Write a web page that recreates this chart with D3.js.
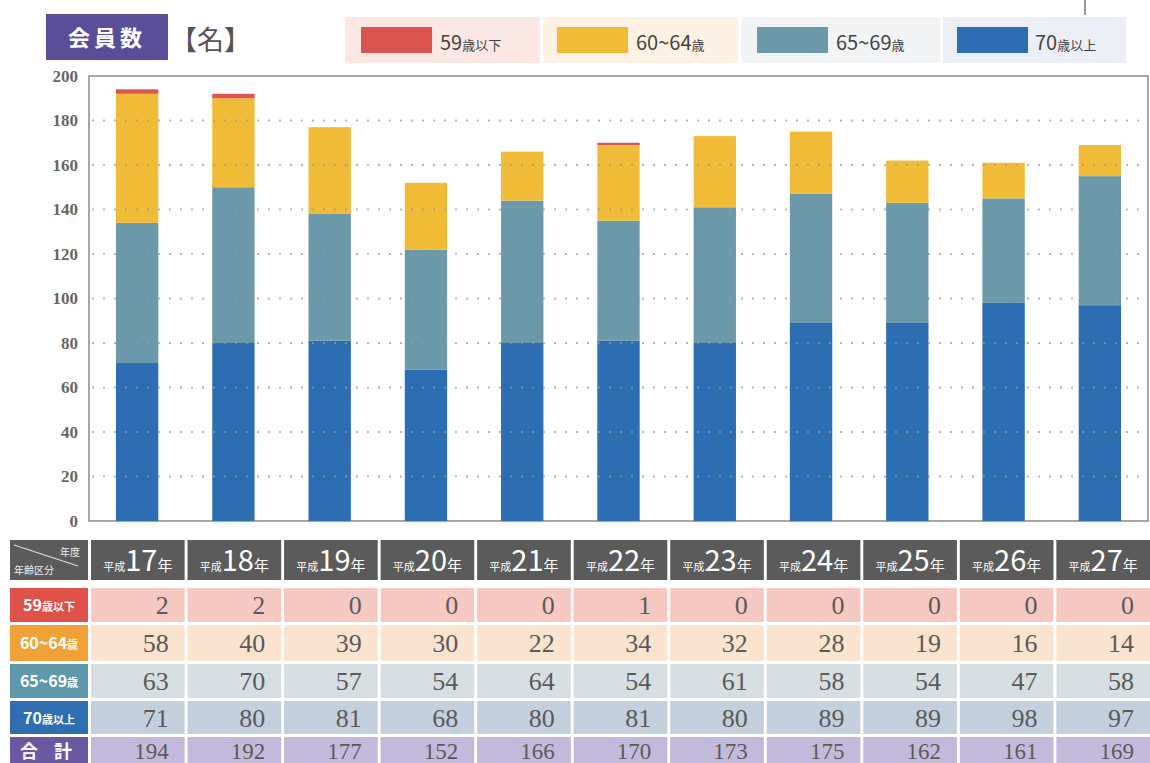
<!DOCTYPE html>
<html><head><meta charset="utf-8">
<script src="https://cdn.jsdelivr.net/npm/d3@7"></script>
<style>body{margin:0;background:#fff}svg{display:block}</style>
</head><body>
<svg id="c" width="1150" height="763"></svg>
<script>
const years = ["17","18","19","20","21","22","23","24","25","26","27"];
const under59 = [2,2,0,0,0,1,0,0,0,0,0];
const age6064 = [58,40,39,30,22,34,32,28,19,16,14];
const age6569 = [63,70,57,54,64,54,61,58,54,47,58];
const over70 = [71,80,81,68,80,81,80,89,89,98,97];
const seriesNames = ["59歳以下","60~64歳","65~69歳","70歳以上"];
const yTicks = [0,20,40,60,80,100,120,140,160,180,200];

const colors = {"70歳以上":"#2d6db2","65~69歳":"#6c99aa","60~64歳":"#f0bc38","59歳以下":"#dc5450"};
const svg = d3.select("#c");
const serif = "'Liberation Serif','DejaVu Serif',serif";
const sans = "'Noto Sans CJK JP','Noto Sans',sans-serif";

const rows = years.map((y,i)=>({year:y,"70歳以上":over70[i],"65~69歳":age6569[i],"60~64歳":age6064[i],"59歳以下":under59[i]}));
const stackKeys = ["70歳以上","65~69歳","60~64歳","59歳以下"];
const stacked = d3.stack().keys(stackKeys)(rows);

const L=89,R=1148,T=76,B=521;
const x = d3.scaleBand().domain(years).range([L,R]).paddingInner(0.56).paddingOuter(0.28);
const y = d3.scaleLinear().domain([0,200]).range([B,T]);

// title
svg.append("rect").attr("x",46).attr("y",14).attr("width",122).attr("height",46).attr("fill","#5a4e98");
svg.append("text").attr("x",107).attr("y",46).attr("text-anchor","middle").attr("fill","#fff")
  .attr("font-family",sans).attr("font-weight","bold").attr("font-size",22).attr("letter-spacing",4).text("会員数");
svg.append("text").attr("x",170).attr("y",50).attr("fill","#555").attr("font-family",sans)
  .attr("font-size",27).text("【名】");

// legend
const legendPos = [
  {bg:[345,540],sw:361,lab:440,bgc:"#fbe8e4"},
  {bg:[543,738],sw:557,lab:636,bgc:"#fdf1e3"},
  {bg:[741,940],sw:757,lab:836,bgc:"#f1f3f4"},
  {bg:[943,1126],sw:957,lab:1035,bgc:"#eceef5"}];
seriesNames.forEach((n,i)=>{
  const p=legendPos[i];
  svg.append("rect").attr("x",p.bg[0]).attr("y",17).attr("width",p.bg[1]-p.bg[0]).attr("height",46).attr("fill",p.bgc);
  svg.append("rect").attr("x",p.sw).attr("y",27).attr("width",71).attr("height",26).attr("fill",colors[n]);
  const t=svg.append("text").attr("x",p.lab).attr("y",50).attr("fill","#444").attr("font-family",sans).attr("font-size",20);
  const m=n.match(/^([\d~]+)(.*)$/);
  t.append("tspan").text(m[1]);
  t.append("tspan").attr("font-size",13).text(m[2]);
});
svg.append("line").attr("x1",1085).attr("x2",1085).attr("y1",0).attr("y2",15).attr("stroke","#777").attr("stroke-width",1.5);

// frame
svg.append("rect").attr("x",L).attr("y",T).attr("width",R-L).attr("height",B-T).attr("fill","#fff").attr("stroke","#8a8a8a").attr("stroke-width",1.5);

// bars
svg.append("g").selectAll("g").data(stacked).join("g").attr("fill",d=>colors[d.key])
  .selectAll("rect").data(d=>d).join("rect")
  .attr("x",d=>x(d.data.year)).attr("width",x.bandwidth())
  .attr("y",d=>y(d[1])).attr("height",d=>y(d[0])-y(d[1]));

// grid dotted on top
svg.append("g").selectAll("line").data(yTicks.filter(v=>v>0&&v<200)).join("line")
  .attr("x1",L+3).attr("x2",R).attr("y1",d=>y(d)).attr("y2",d=>y(d))
  .attr("stroke","#999").attr("stroke-opacity",0.7).attr("stroke-width",2).attr("stroke-dasharray","2,9");

// y axis
const yAxis = d3.axisLeft(y).tickValues(yTicks).tickSize(0).tickPadding(11);
const ga = svg.append("g").attr("transform",`translate(${L},0)`).call(yAxis);
ga.select(".domain").remove();
ga.selectAll("text").attr("font-family",serif).attr("font-size",17).attr("font-weight","bold").attr("fill","#666");

// table
const colX = d3.scaleBand().domain(years).range([91,1150]).paddingInner(0.03);
const hdrTop=540, hdrH=40;
const rowDefs = [
  {name:"59歳以下",vals:under59,top:588,h:34,hc:"#df5249",cells:"#f5c9c1",ty:9},
  {name:"60~64歳",vals:age6064,top:625,h:36,hc:"#f0a239",cells:"#fbe4cf",ty:9},
  {name:"65~69歳",vals:age6569,top:664,h:34,hc:"#5f98aa",cells:"#d6dee2",ty:9},
  {name:"70歳以上",vals:over70,top:701,h:33,hc:"#2f6eb0",cells:"#c4cfde",ty:9},
  {name:"合 計",vals:years.map((_,i)=>under59[i]+age6064[i]+age6569[i]+over70[i]),top:737,h:30,hc:"#6a59a2",cells:"#c3badb",ty:7}];

// header row
svg.append("rect").attr("x",10).attr("y",hdrTop).attr("width",78).attr("height",hdrH).attr("fill","#5b5b5b");
svg.append("line").attr("x1",14).attr("y1",545).attr("x2",78).attr("y2",566).attr("stroke","#ddd").attr("stroke-width",1.2);
svg.append("text").attr("x",80).attr("y",556).attr("text-anchor","end").attr("fill","#eee").attr("font-family",sans).attr("font-size",10).text("年度");
svg.append("text").attr("x",14).attr("y",574).attr("fill","#eee").attr("font-family",sans).attr("font-size",10).text("年齢区分");
const hdr = svg.append("g").selectAll("g").data(years).join("g");
hdr.append("rect").attr("x",d=>colX(d)).attr("y",hdrTop).attr("width",colX.bandwidth()).attr("height",hdrH).attr("fill","#5b5b5b");
const ht = hdr.append("text").attr("x",d=>colX(d)+colX.bandwidth()/2).attr("y",hdrTop+31).attr("text-anchor","middle")
  .attr("fill","#fff").attr("font-family",sans);
ht.append("tspan").attr("font-size",11).text("平成");
ht.append("tspan").attr("font-size",29).text(d=>d);
ht.append("tspan").attr("font-size",15).text("年");

rowDefs.forEach(r=>{
  svg.append("rect").attr("x",10).attr("y",r.top).attr("width",78).attr("height",r.h).attr("fill",r.hc);
  const t = svg.append("text").attr("x",49).attr("y",r.top+r.h/2+6).attr("text-anchor","middle").attr("fill","#fff")
    .attr("font-family",sans).attr("font-weight","bold");
  const m = r.name.match(/^([\d~]+)(.*)$/);
  if(m){t.append("tspan").attr("font-size",16).text(m[1]);t.append("tspan").attr("font-size",11).text(m[2]);}
  else {t.attr("font-size",18).attr("letter-spacing",6).text(r.name);}
  const g = svg.append("g");
  g.selectAll("rect").data(years).join("rect").attr("x",d=>colX(d)).attr("y",r.top).attr("width",colX.bandwidth()).attr("height",r.h).attr("fill",r.cells);
  g.selectAll("text").data(r.vals).join("text").attr("x",(d,i)=>colX(years[i])+colX.bandwidth()-16)
    .attr("y",r.top+r.h/2+r.ty).attr("text-anchor","end").attr("fill","#5a5a5a").attr("font-family",serif).attr("font-size",r.ty===7?23:26).text(d=>d);
});
</script>
</body></html>
